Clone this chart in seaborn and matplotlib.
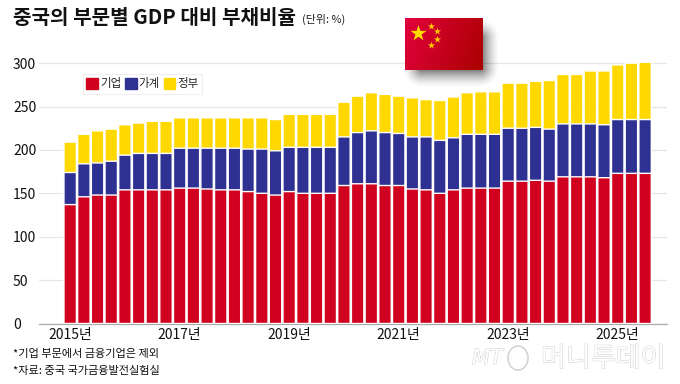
#!/usr/bin/env python3
"""중국의 부문별 GDP 대비 부채비율 - 누적 막대"""

import numpy as np
import matplotlib
matplotlib.use('Agg')
import matplotlib.pyplot as plt
import matplotlib.patheffects as pe
from matplotlib.patches import Patch, Ellipse
import seaborn as sns

W, H = 680, 384

quarters = [f"{y}Q{q}" for y in range(2015, 2026) for q in range(1, 5)][:43]

# 누적 경계값 (기업 / 기업+가계 / 기업+가계+정부)
corporate = [137, 146, 148, 148, 154, 154, 154, 154, 156, 156, 155, 154, 154, 152, 150,
             148, 152, 150, 150, 150, 159, 161, 161, 159, 159, 155, 154, 150, 154, 156,
             156, 156, 164, 164, 165, 164, 169, 169, 169, 168, 173, 173, 173]
corp_house = [174, 184, 185, 187, 194, 196, 196, 196, 202, 202, 202, 202, 202, 201, 201,
              199, 203, 203, 203, 203, 215, 220, 222, 220, 219, 215, 215, 211, 214, 218,
              218, 218, 225, 225, 226, 224, 230, 230, 230, 229, 235, 235, 235]
total = [209, 218, 222, 224, 229, 231, 233, 233, 237, 237, 237, 237, 237, 237, 237,
         235, 241, 241, 241, 241, 255, 262, 266, 264, 262, 260, 258, 257, 261, 266,
         267, 267, 277, 277, 279, 280, 287, 287, 291, 291, 298, 300, 301]

series_names = ['기업', '가계', '정부']
year_labels = ['2015년', '2017년', '2019년', '2021년', '2023년', '2025년']
y_ticks = [0, 50, 100, 150, 200, 250, 300]

RED, BLUE, YELLOW = '#d0021f', '#2e3192', '#ffd800'
NARROW = ['Liberation Sans Narrow', 'Noto Sans CJK KR', 'DejaVu Sans']

sns.set_theme(style='whitegrid')
plt.rcParams['font.family'] = ['Noto Sans CJK KR', 'DejaVu Sans']

fig = plt.figure(figsize=(W / 100, H / 100), dpi=100)
ax = fig.add_axes([38.7 / W, 60.5 / H, (667 - 38.7) / W, 264.7 / H])

# 뒤에서부터 겹쳐 그려서 누적 막대로 만든다
for vals, col in [(total, YELLOW), (corp_house, BLUE), (corporate, RED)]:
    sns.barplot(x=quarters, y=vals, color=col, saturation=1, width=0.91, ax=ax, zorder=2)
for p in ax.patches:
    p.set_snap(False)

ax.set_xlim(-2.3, 43.6)
ax.set_ylim(0, 305)
ax.set_yticks(y_ticks)
ax.set_xticks(range(0, 43, 8))
ax.set_xticklabels(year_labels, fontsize=10, color='#111111', family=NARROW)
ax.tick_params(axis='both', length=0)
ax.tick_params(axis='x', pad=3)
ax.tick_params(axis='y', pad=18.5, labelsize=10, labelcolor='#111111')
for lab in ax.get_yticklabels():
    lab.set_ha('left')
    lab.set_family(NARROW)
ax.grid(axis='x', visible=False)
ax.grid(axis='y', color='#e6e6e6', lw=0.9)
ax.set_axisbelow(True)
for s in ['top', 'right', 'left']:
    ax.spines[s].set_visible(False)
ax.spines['bottom'].set_color('#aaaaaa')
ax.spines['bottom'].set_linewidth(0.9)
ax.spines['bottom'].set_zorder(1)

handles = [Patch(color=c) for c in (RED, BLUE, YELLOW)]
leg = fig.legend(handles, series_names, loc='upper left', bbox_to_anchor=(83 / W, 1 - 74 / H),
                 bbox_transform=fig.transFigure, ncol=3, fontsize=8.3, frameon=True, fancybox=False,
                 edgecolor='#eeeeee', framealpha=1, borderaxespad=0, borderpad=0.3,
                 handlelength=1, handleheight=1, handletextpad=0.2, columnspacing=0.3)
leg.get_frame().set_linewidth(0.8)

fig.text(13 / W, 1 - 17.5 / H, '중국의 부문별 GDP 대비 부채비율', fontsize=14.5, fontweight='bold',
         va='center', color='#111111')
fig.text(302 / W, 1 - 19 / H, '(단위: %)', fontsize=7.9, va='center', color='#222222')
fig.text(13 / W, 1 - 354 / H, '*기업 부문에서 금융기업은 제외', fontsize=8.05, va='center', color='#111111')
fig.text(13 / W, 1 - 370.5 / H, '*자료: 중국 국가금융발전실험실', fontsize=8.05, va='center', color='#111111')

# 워터마크
wm = [pe.withStroke(linewidth=0.6, foreground='#c8c8c8')]
fig.text(472 / W, 1 - 358 / H, 'MT', fontsize=15, style='italic', va='center', color='white',
         family=['DejaVu Sans'], path_effects=wm)
fig.add_artist(Ellipse((518 / W, 1 - 358 / H), 20 / W, 24 / H, angle=0, fill=False,
                       ec='#d4d4d4', lw=1.2, transform=fig.transFigure))
fig.text(541 / W, 1 - 359 / H, '머니투데이', fontsize=19.5, va='center', color='white', path_effects=wm)

# 깃발 그림자
sh_ax = fig.add_axes([395 / W, 1 - 100 / H, 115 / W, 90 / H], zorder=5)
xx, yy = np.meshgrid(np.arange(115) + 395.5, np.arange(90) + 10.5)
dx = np.maximum(np.maximum(422 - xx, xx - 480), 0)
dy = np.maximum(np.maximum(38 - yy, yy - 68), 0)
shadow = np.zeros((90, 115, 4))
shadow[..., 3] = 0.6 * np.clip(1 - np.hypot(dx, dy) / 20, 0, 1) ** 1.6
sh_ax.imshow(shadow, aspect='auto', interpolation='bilinear')
sh_ax.axis('off')

# 깃발
fl_ax = fig.add_axes([405 / W, 1 - 70 / H, 78 / W, 52 / H], zorder=6)
gx, gy = np.meshgrid(np.linspace(0, 1, 78), np.linspace(0, 1, 52))
t = np.clip(0.8 * gx + 0.2 * gy, 0, 1)[..., None]
flag = (1 - t) * np.array([226, 0, 60]) / 255 + t * np.array([170, 0, 0]) / 255
fl_ax.imshow(flag, extent=(0, 78, 52, 0), aspect='auto')
fl_ax.scatter([13], [15], marker='*', s=150, color='#ffdc00', lw=0)
fl_ax.scatter([26, 31.7, 31.7, 26], [8, 13.3, 21.3, 26.7], marker='*', s=30, color='#ffc800', lw=0)
fl_ax.set_xlim(0, 78)
fl_ax.set_ylim(52, 0)
fl_ax.axis('off')

fig.savefig('out.png', dpi=100, facecolor='white')
